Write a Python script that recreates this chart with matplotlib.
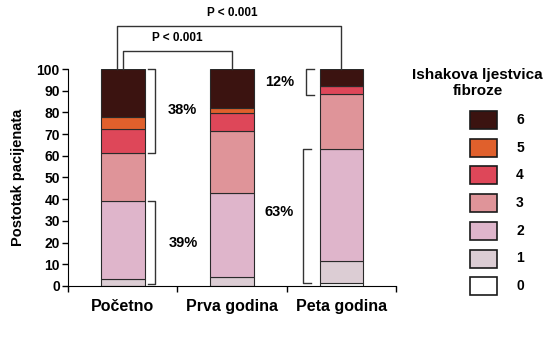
import matplotlib.pyplot as plt
from matplotlib.patches import Rectangle

plt.rcParams['font.family'] = ['Liberation Sans', 'DejaVu Sans']
plt.rcParams['font.weight'] = 'bold'

categories = ['Početno', 'Prva godina', 'Peta godina']
levels = ['0', '1', '2', '3', '4', '5', '6']
colors = ['#ffffff', '#dccdd4', '#dfb5cb', '#df9499', '#de4759', '#e0602c', '#3b1310']

# share of patients per Ishak stage, per time point
stage0 = [0, 0, 1.2]
stage1 = [3, 4, 10.5]
stage2 = [36, 39, 51.4]
stage3 = [22.5, 28.5, 25.2]
stage4 = [11, 8, 4]
stage5 = [5.5, 2.5, 0]
stage6 = [22, 18, 7.7]
stages = [stage0, stage1, stage2, stage3, stage4, stage5, stage6]

fig = plt.figure(figsize=(5.54, 3.40), dpi=100)
fig.set_facecolor('white')
ax = fig.add_axes([0.123, 0.159, 0.592, 0.638])

x = range(len(categories))
bottom = [0, 0, 0]
for vals, c in zip(stages, colors):
    ax.bar(x, vals, width=0.4, bottom=bottom, color=c, edgecolor='#2a2a2a', linewidth=0.8)
    bottom = [b + v for b, v in zip(bottom, vals)]

ax.set_xlim(-0.5, 2.5)
ax.set_ylim(0, 100)
ax.set_yticks(range(0, 101, 10))
ax.set_xticks([-0.5, 0.5, 1.5, 2.5])
ax.set_xticklabels([])
for i, c in enumerate(categories):
    ax.text(i, -6, c, ha='center', va='top', fontsize=11.5, fontweight='bold')
ax.tick_params(axis='both', labelsize=10, width=1, length=4, pad=2)
ax.spines['top'].set_visible(False)
ax.spines['right'].set_visible(False)
ax.set_ylabel('Postotak pacijenata', fontsize=10.5, fontweight='bold', labelpad=8)

lk = dict(color='#333333', lw=1, clip_on=False)

# right brackets next to first bar
def bracket(xv, y0, y1, d):
    ax.plot([xv - d, xv, xv, xv - d], [y1, y1, y0, y0], **lk)

bracket(0.29, 61.5, 100, 0.06)
bracket(0.29, 1, 39, 0.06)
ax.text(0.54, 81, '38%', ha='center', va='center', fontsize=10.5, fontweight='bold')
ax.text(0.55, 20, '39%', ha='center', va='center', fontsize=10.5, fontweight='bold')

# left brackets next to third bar
bracket(1.68, 88, 100, -0.07)
bracket(1.65, 1.2, 63, -0.07)
ax.text(1.57, 94, '12%', ha='right', va='center', fontsize=10.5, fontweight='bold')
ax.text(1.56, 34, '63%', ha='right', va='center', fontsize=10.5, fontweight='bold')

# significance brackets
ax.plot([-0.05, -0.05, 2.0, 2.0], [100, 120, 120, 100], **lk)
ax.plot([0.0, 0.0, 1.0, 1.0], [100, 108.5, 108.5, 100], **lk)
ax.text(1.0, 123, 'P < 0.001', ha='center', va='bottom', fontsize=8.5, fontweight='bold')
ax.text(0.5, 111.5, 'P < 0.001', ha='center', va='bottom', fontsize=8.5, fontweight='bold')

# legend drawn by hand in figure coords
fig.text(0.862, 0.755, 'Ishakova ljestvica\nfibroze', ha='center', va='center',
         fontsize=11, fontweight='bold', linespacing=1.2)
for k, lev in enumerate(levels[::-1]):
    yc = 1 - (120 + k * 27.7) / 340
    fig.patches.append(Rectangle((470 / 554, yc - 9 / 340), 27 / 554, 18 / 340,
                                 transform=fig.transFigure, facecolor=colors[::-1][k],
                                 edgecolor='#1a1a1a', linewidth=1.2))
    fig.text(520 / 554, yc, lev, ha='center', va='center', fontsize=10, fontweight='bold')

plt.savefig('out.png', dpi=100)
